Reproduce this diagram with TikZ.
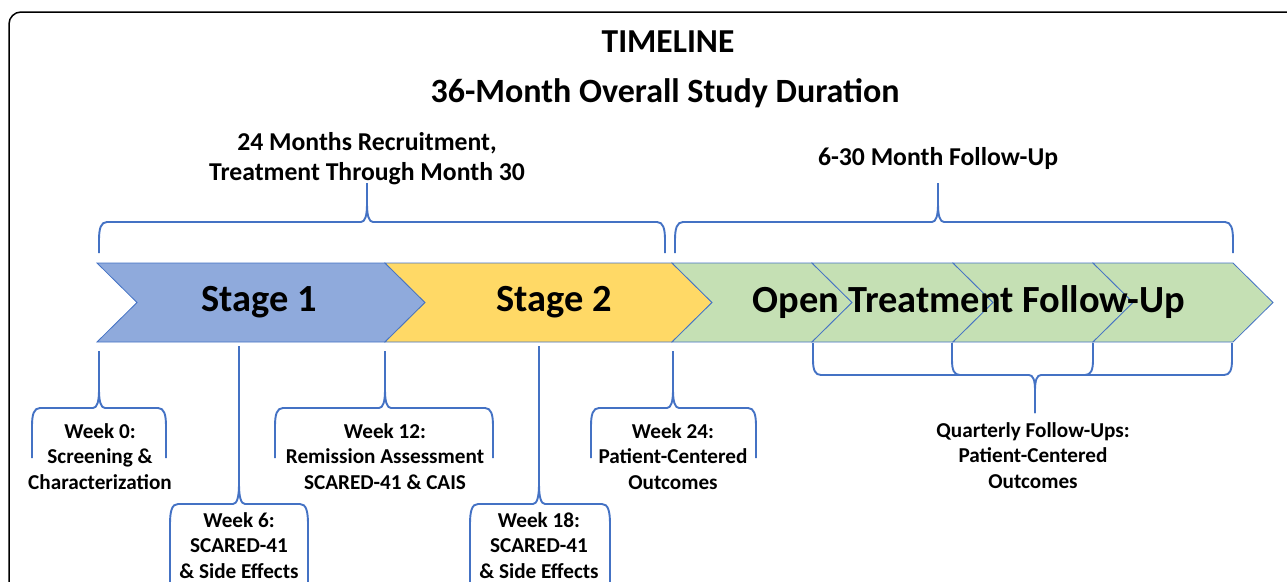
\documentclass[tikz,border=0pt]{standalone}
\usepackage{fontspec}
\setmainfont{Carlito}
\usetikzlibrary{positioning}

\definecolor{edgeblue}{HTML}{4472C4}
\definecolor{stageblue}{HTML}{8FAADC}
\definecolor{stageyellow}{HTML}{FFD966}
\definecolor{stagegreen}{HTML}{C5E0B4}

% one arrow of the timeline: left x, right x, fill
\newcommand{\chev}[3]{%
  \filldraw[chevron, fill=#3] (#1,263) -- (#2,263) -- ++(40,39.5) -- (#2,342) -- (#1,342) -- ++(40,-39.5) -- cycle;}

% curly bracket: left x, right x, tip x, line y, ends y, tip y, bend height (signed)
\newcommand{\curly}[7]{%
  \draw[bracket] (#1,#5) -- (#1,{#4+#7}) .. controls (#1,{#4+0.35*#7}) and ({#1+2},#4) .. ({#1+8},#4)
    -- ({#3-6},#4) .. controls ({#3-2},#4) and (#3,{#4-0.35*#7}) .. (#3,{#4-#7}) -- (#3,#6);
  \draw[bracket] (#2,#5) -- (#2,{#4+#7}) .. controls (#2,{#4+0.35*#7}) and ({#2-2},#4) .. ({#2-8},#4)
    -- ({#3+6},#4) .. controls ({#3+2},#4) and (#3,{#4-0.35*#7}) .. (#3,{#4-#7}) -- (#3,#6);}

\begin{document}
\begin{tikzpicture}[
  x=1pt,
  y=-1pt,
  chevron/.style={draw=edgeblue, line width=0.8pt, line join=miter},
  bracket/.style={edgeblue, line width=1.9pt},
  title/.style={font=\bfseries\fontsize{33.5}{36}\selectfont, anchor=base, inner sep=0pt},
  head/.style={font=\bfseries\fontsize{25.7}{30}\selectfont, align=center, anchor=base, inner sep=0pt},
  stage/.style={font=\bfseries\fontsize{38.4}{40}\selectfont, inner sep=0pt},
  week/.style={font=\bfseries\fontsize{21.2}{25.5}\selectfont, align=center, anchor=base, inner sep=0pt}
]
  \useasboundingbox (0,0) rectangle (1287,581);
  \clip (0,0) rectangle (1287,581);
  \draw[line width=1.5pt, rounded corners=12pt] (9,12) rectangle (1320,620);

  % titles
  \node[title] (timeline) at (668,52) {TIMELINE};
  \node[title, font=\bfseries\fontsize{34}{36}\selectfont] (duration) at (665,102) {36-Month Overall Study Duration};
  \node[head] (recruit) at (367,180) {24 Months Recruitment,\\Treatment Through Month 30};
  \node[head] (followup) at (938,165) {6-30 Month Follow-Up};

  % arrows
  \chev{97}{385}{stageblue}
  \chev{385}{672}{stageyellow}
  \foreach \xl/\xr in {672/812, 812/953, 953/1093, 1093/1233}
    \chev{\xl}{\xr}{stagegreen};

  \node[stage] (stage1) at (259,302) {Stage 1};
  \node[stage] (stage2) at (554,302) {Stage 2};
  \node[stage] (open) at (969,302) {Open Treatment Follow-Up};

  % brackets above
  \curly{99}{665}{367}{222}{253}{183}{18}
  \curly{675}{1233}{938}{222}{253}{183}{18}

  % brackets below
  \curly{32}{166}{99}{408}{458}{351}{18}
  \curly{170}{308}{239}{504}{600}{346}{20}
  \curly{275}{493}{385}{408}{458}{351}{18}
  \curly{470}{610}{539}{504}{600}{346}{20}
  \curly{591}{756}{673}{408}{458}{351}{18}
  \curly{813}{1232}{1035}{375}{343}{413}{-15}
  \draw[bracket] (952,343) -- (952,360) .. controls (952,370) and (954,375) .. (960,375);
  \draw[bracket] (1093,343) -- (1093,360) .. controls (1093,370) and (1091,375) .. (1085,375);

  % visit labels
  \node[week] (week0) at (100,489) {Week 0:\\Screening \&\\Characterization};
  \node[week] (week6) at (239,578) {Week 6:\\SCARED-41\\\& Side Effects};
  \node[week] (week12) at (385,489) {Week 12:\\Remission Assessment\\SCARED-41 \& CAIS};
  \node[week] (week18) at (539,578) {Week 18:\\SCARED-41\\\& Side Effects};
  \node[week] (week24) at (673,489) {Week 24:\\Patient-Centered\\Outcomes};
  \node[week] (quarter) at (1033,488) {Quarterly Follow-Ups:\\Patient-Centered\\Outcomes};
\end{tikzpicture}
\end{document}
